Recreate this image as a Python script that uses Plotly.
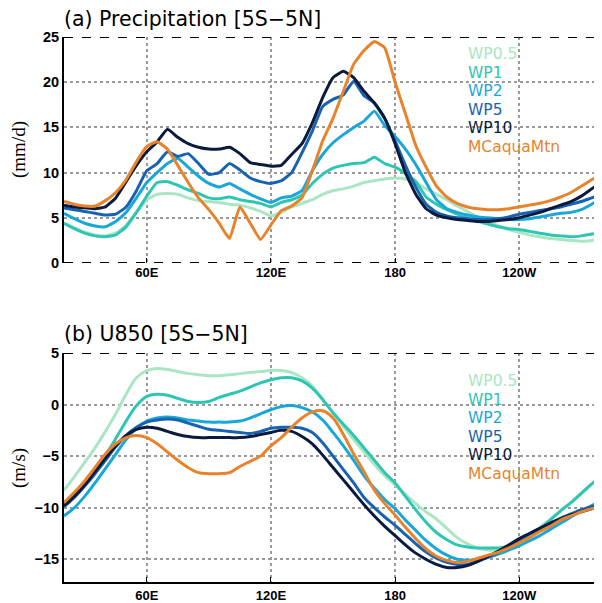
import plotly.graph_objects as go

# page body has an 8px margin; lay the figure out in window pixels minus that offset
OFF = 8
W, H = 602 - OFF, 603 - OFF

lon = list(range(20, 281, 5))

series_names = ["WP0.5", "WP1", "WP2", "WP5", "WP10", "MCaquaMtn"]
series_colors = ["#a9e6c1", "#2ec6b3", "#19a7d9", "#1763b2", "#0b1a3d", "#e8832b"]

# (a) Precipitation [5S-5N], mm/d
pr_wp05 = [4.4, 3.9, 3.4, 3.1, 3.0, 3.3, 4.2, 5.6, 7.0, 7.6,
           7.7, 7.6, 7.2, 6.9, 6.8, 6.7, 6.5, 6.4, 6.1, 5.7,
           5.2, 5.6, 6.2, 6.6, 7.0, 7.6, 8.0, 8.2, 8.5, 8.9,
           9.1, 9.3, 9.4, 9.3, 8.9, 8.2, 7.6, 7.0, 6.3, 5.7,
           5.1, 4.6, 4.1, 3.7, 3.4, 3.1, 2.9, 2.7, 2.6, 2.5,
           2.4, 2.5, 2.7]
pr_wp1 = [4.4, 3.8, 3.3, 3.0, 2.9, 3.1, 4.0, 5.6, 7.4, 8.9,
          9.0, 8.6, 8.1, 7.7, 7.2, 7.1, 7.3, 7.0, 6.8, 6.6,
          6.2, 6.7, 7.0, 7.5, 8.8, 9.8, 10.5, 10.8, 11.0, 11.1,
          11.7, 11.0, 10.6, 9.9, 9.0, 7.3, 6.5, 5.9, 5.4, 5.0,
          4.6, 4.3, 4.0, 3.8, 3.7, 3.5, 3.3, 3.1, 3.0, 2.9,
          3.0, 3.2, 3.4]
pr_wp2 = [5.5, 4.9, 4.4, 4.1, 4.0, 4.6, 5.6, 7.2, 8.9, 10.0,
          11.0, 11.6, 10.6, 9.6, 8.8, 8.4, 8.8, 8.2, 7.6, 7.1,
          6.7, 7.2, 7.4, 8.0, 10.2, 12.0, 13.3, 14.2, 15.0, 15.7,
          16.8, 15.2, 14.0, 12.6, 10.9, 8.9, 7.0, 6.0, 5.6, 5.3,
          5.1, 5.0, 4.9, 4.8, 4.8, 4.9, 5.1, 5.3, 5.5, 5.6,
          5.9, 6.5, 7.2]
pr_wp5 = [6.1, 5.9, 5.7, 5.5, 5.3, 5.4, 6.2, 8.0, 10.2, 11.0,
          12.3, 11.8, 12.1, 11.0, 9.8, 10.0, 11.0, 10.3, 9.4, 9.0,
          8.8, 9.1, 10.0, 12.2, 14.6, 17.3, 18.1, 18.6, 20.1, 18.5,
          17.7, 16.0, 13.5, 10.8, 8.4, 6.5, 5.6, 5.2, 5.0, 4.9,
          4.8, 4.8, 4.9, 5.1, 5.4, 5.6, 5.8, 6.0, 6.2, 6.5,
          6.8, 7.2, 7.6]
pr_wp10 = [6.4, 6.2, 6.1, 6.0, 6.2, 7.2, 9.0, 10.8, 12.3, 13.4,
           14.8, 13.9, 13.2, 12.8, 12.6, 12.6, 12.8, 12.1, 11.1, 10.9,
           10.7, 10.8, 12.0, 13.2, 15.5, 18.3, 20.5, 21.2, 20.5, 19.0,
           17.7, 16.0, 13.2, 10.0, 7.6, 6.0, 5.3, 5.0, 4.8, 4.7,
           4.6, 4.6, 4.7, 4.8, 5.0, 5.3, 5.6, 6.0, 6.4, 6.8,
           7.4, 8.2, 9.0]
pr_mc = [6.8, 6.5, 6.3, 6.3, 6.9, 7.8, 9.2, 11.2, 12.9, 13.4,
         12.6, 10.8, 8.9, 7.2, 5.9, 4.4, 2.7, 6.2, 4.4, 2.6,
         4.2, 5.8, 6.3, 7.2, 10.2, 13.5, 16.0, 19.0, 22.0, 23.5,
         24.5, 23.8, 20.0, 16.5, 13.0, 10.6, 8.5, 7.3, 6.6, 6.2,
         6.0, 5.9, 5.9, 6.0, 6.2, 6.4, 6.6, 6.9, 7.3, 7.8,
         8.5, 9.2, 9.9]

# (b) U850 [5S-5N], m/s
u_wp05 = [-8.3, -7.0, -5.6, -4.2, -2.6, -0.9, 1.0, 2.6, 3.3, 3.5,
          3.4, 3.2, 3.0, 2.9, 2.8, 2.8, 2.9, 3.0, 3.1, 3.2,
          3.3, 3.3, 3.1, 2.6, 1.8, 0.5, -0.8, -2.1, -3.4, -4.6,
          -5.8, -6.9, -7.8, -8.7, -9.6, -10.4, -11.1, -12.0, -12.9, -13.5,
          -13.9, -14.1, -14.1, -13.8, -13.3, -12.6, -11.9, -11.1, -10.3, -9.5,
          -8.6, -7.7, -6.9]
u_wp1 = [-9.6, -8.7, -7.6, -6.3, -4.9, -3.3, -1.6, -0.1, 0.8, 1.0,
         0.9, 0.6, 0.3, 0.2, 0.3, 0.7, 1.0, 1.3, 1.7, 2.1,
         2.4, 2.6, 2.6, 2.3, 1.6, 0.5, -0.8, -1.9, -3.0, -4.2,
         -5.4, -6.6, -7.6, -8.9, -10.2, -11.4, -12.4, -13.1, -13.6, -13.8,
         -13.9, -13.9, -13.9, -13.7, -13.3, -12.7, -12.0, -11.2, -10.3, -9.5,
         -8.6, -7.7, -6.8]
u_wp2 = [-10.8, -10.0, -8.9, -7.6, -6.2, -4.8, -3.4, -2.3, -1.6, -1.3,
         -1.2, -1.3, -1.5, -1.6, -1.7, -1.7, -1.7, -1.6, -1.3, -0.9,
         -0.5, -0.2, -0.1, -0.3, -0.7, -1.5, -2.7, -4.0, -5.4, -6.9,
         -8.1, -9.2, -10.1, -11.2, -12.2, -13.2, -14.0, -14.6, -15.0, -15.1,
         -15.0, -14.8, -14.5, -14.1, -13.7, -13.2, -12.7, -12.1, -11.5, -10.9,
         -10.3, -9.8, -9.3]
u_wp5 = [-9.9, -9.0, -7.9, -6.7, -5.4, -4.1, -3.0, -2.2, -1.7, -1.5,
         -1.4, -1.5, -1.8, -2.1, -2.4, -2.5, -2.6, -2.7, -2.8, -2.6,
         -2.3, -2.2, -2.2, -2.3, -2.7, -3.7, -5.0, -6.3, -7.6, -9.0,
         -10.0, -10.9, -11.7, -12.6, -13.5, -14.3, -14.9, -15.3, -15.5, -15.5,
         -15.2, -14.8, -14.3, -13.7, -13.1, -12.5, -12.0, -11.5, -11.0, -10.6,
         -10.2, -9.9, -9.6]
u_wp10 = [-9.8, -8.9, -7.8, -6.5, -5.2, -4.0, -3.0, -2.4, -2.2, -2.3,
          -2.6, -2.9, -3.1, -3.2, -3.2, -3.2, -3.2, -3.2, -3.1, -2.9,
          -2.7, -2.5, -2.6, -3.1, -3.8, -4.9, -6.1, -7.3, -8.5, -9.7,
          -10.8, -11.8, -12.7, -13.6, -14.4, -15.0, -15.5, -15.8, -15.8, -15.6,
          -15.2, -14.7, -14.2, -13.6, -13.0, -12.5, -12.0, -11.5, -11.1, -10.7,
          -10.4, -10.1, -9.8]
u_mc = [-9.5, -8.5, -7.4, -6.1, -4.8, -3.8, -3.2, -3.0, -3.2, -3.8,
        -4.6, -5.4, -6.1, -6.6, -6.7, -6.7, -6.6, -6.0, -5.5, -5.0,
        -4.0, -3.2, -2.2, -1.3, -0.7, -0.6, -1.3, -2.9, -4.8, -6.5,
        -8.3, -9.6, -10.7, -11.9, -13.0, -14.0, -14.7, -15.1, -15.3, -15.2,
        -14.9, -14.6, -14.3, -13.9, -13.4, -12.9, -12.3, -11.8, -11.2, -10.8,
        -10.4, -10.1, -9.9]

precip = [pr_wp05, pr_wp1, pr_wp2, pr_wp5, pr_wp10, pr_mc]
u850 = [u_wp05, u_wp1, u_wp2, u_wp5, u_wp10, u_mc]

x_tickvals = [60, 120, 180, 240]
x_ticktext = ["60E", "120E", "180", "120W"]
ya_tickvals = [0, 5, 10, 15, 20, 25]
yb_tickvals = [-15, -10, -5, 0, 5]

xrange = [20, 280]
ya_range = [0, 25]
yb_range = [-17.2, 5]

def px(p):
    return (p - OFF) / W

def py(p):
    return 1 - (p - OFF) / H

fig = go.Figure()
for name, col, ys in zip(series_names, series_colors, precip):
    fig.add_trace(go.Scatter(x=lon, y=ys, mode="lines", name=name,
                             line=dict(color=col, width=3, shape="spline", smoothing=0.4),
                             xaxis="x", yaxis="y", showlegend=False))
for name, col, ys in zip(series_names, series_colors, u850):
    fig.add_trace(go.Scatter(x=lon, y=ys, mode="lines", name=name,
                             line=dict(color=col, width=3, shape="spline", smoothing=1.0),
                             xaxis="x2", yaxis="y2", showlegend=False))

tickfont = dict(family="Liberation Sans", size=13, color="black", weight="bold")
ytickfont = dict(family="Liberation Sans", size=14.5, color="black", weight="bold")
grid = dict(showgrid=True, gridcolor="#9a9a9a", gridwidth=1.5, griddash="dot", automargin=False)

x_dom = [px(64), 1.0]
fig.update_layout(
    width=W, height=H, margin=dict(l=0, r=0, t=0, b=0, autoexpand=False),
    paper_bgcolor="white", plot_bgcolor="white",
    xaxis=dict(domain=x_dom, range=xrange, anchor="y", tickvals=x_tickvals,
               ticktext=x_ticktext, tickfont=tickfont, showline=False,
               zeroline=False, ticks="inside", ticklen=5, tickcolor="black", **grid),
    yaxis=dict(domain=[py(263), py(37)], range=ya_range, anchor="x",
               tickvals=ya_tickvals, tickfont=ytickfont,
               showline=True, linecolor="black", linewidth=2, zeroline=False,
               ticks="", **grid),
    xaxis2=dict(domain=x_dom, range=xrange, anchor="y2", tickvals=x_tickvals,
                ticktext=x_ticktext, tickfont=tickfont, showline=True,
                linecolor="black", linewidth=2, zeroline=False,
                ticks="inside", ticklen=5, tickcolor="black", **grid),
    yaxis2=dict(domain=[py(582), py(353)], range=yb_range, anchor="x2",
                tickvals=yb_tickvals, tickfont=ytickfont,
                showline=True, linecolor="black", linewidth=2, zeroline=False,
                ticks="", **grid),
)

# dashed frame edges
for xr, yr, yv in [("x", "y", 25), ("x", "y", 0), ("x2", "y2", 5)]:
    fig.add_shape(type="line", xref=xr, yref=yr, x0=xrange[0], x1=xrange[1], y0=yv, y1=yv,
                  line=dict(color="black", width=2, dash="dash"))

ann = []
ann.append(dict(text="(a) Precipitation [5S\u22125N]", x=px(62), y=py(19), xref="paper", yref="paper",
                xanchor="left", yanchor="middle", showarrow=False,
                font=dict(family="DejaVu Sans", size=20.5, color="black")))
ann.append(dict(text="(b) U850 [5S\u22125N]", x=px(62), y=py(334), xref="paper", yref="paper",
                xanchor="left", yanchor="middle", showarrow=False,
                font=dict(family="DejaVu Sans", size=20.5, color="black")))
ann.append(dict(text="(mm/d)", x=px(19), y=py(150), xref="paper", yref="paper",
                xanchor="center", yanchor="middle", showarrow=False, textangle=-90,
                font=dict(family="Liberation Serif", size=19, color="black")))
ann.append(dict(text="(m/s)", x=px(19), y=py(468), xref="paper", yref="paper",
                xanchor="center", yanchor="middle", showarrow=False, textangle=-90,
                font=dict(family="Liberation Serif", size=19, color="black")))
for top in (54, 381):
    for i, (name, col) in enumerate(zip(series_names, series_colors)):
        ann.append(dict(text=name, x=px(466), y=py(top + i * 18.6), xref="paper", yref="paper",
                        xanchor="left", yanchor="middle", showarrow=False,
                        font=dict(family="DejaVu Sans", size=15.5, color=col)))
fig.update_layout(annotations=ann)

fig.write_html("out.html")
